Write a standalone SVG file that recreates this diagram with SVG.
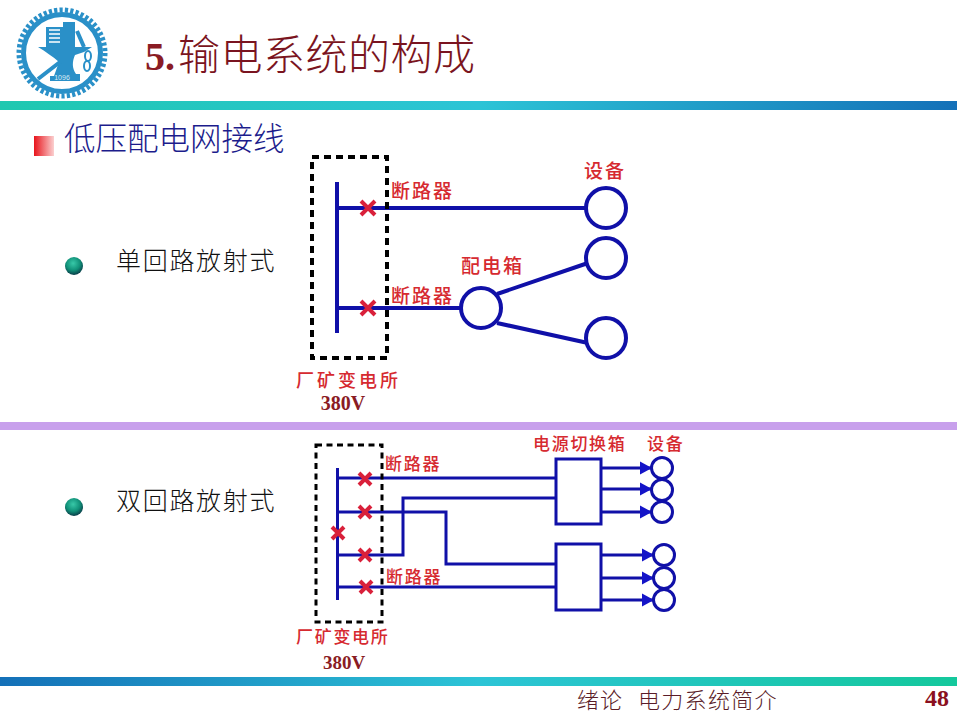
<svg xmlns="http://www.w3.org/2000/svg" width="957" height="716" viewBox="0 0 957 716">
<style>
.cjk{font-family:"Noto Sans CJK SC","Noto Sans",sans-serif}
.ser{font-family:"Liberation Serif",serif;font-weight:bold}
.red{fill:#d62a30;font-family:"Noto Sans CJK SC",sans-serif;font-weight:500;font-size:19px;letter-spacing:2px}
.red2{fill:#d62a30;font-family:"Noto Sans CJK SC",sans-serif;font-weight:500;font-size:17px;letter-spacing:1.700px}
.w{fill:none;stroke:#1010a8;stroke-width:4}
.w2{fill:none;stroke:#1010a8;stroke-width:3}
.c{fill:#fff;stroke:#1010a8;stroke-width:4}
.c2{fill:#fff;stroke:#1010a8;stroke-width:3}
.x{stroke:#d9203a;stroke-width:4;fill:none}
.d{fill:none;stroke:#000;stroke-width:4;stroke-dasharray:7 5}
.d2{fill:none;stroke:#000;stroke-width:3;stroke-dasharray:6 4.500}
</style>
<defs>
<linearGradient id="g1" x1="0" x2="1" y1="0" y2="0"><stop offset="0" stop-color="#1fc8b0"/><stop offset="0.5" stop-color="#2cc4d6"/><stop offset="1" stop-color="#1470b8"/></linearGradient>
<linearGradient id="g2" x1="0" x2="1" y1="0" y2="0"><stop offset="0" stop-color="#1470b8"/><stop offset="0.5" stop-color="#2cc4d6"/><stop offset="1" stop-color="#14c89c"/></linearGradient>
<linearGradient id="gs" x1="0" x2="1" y1="0" y2="0"><stop offset="0" stop-color="#e8141c"/><stop offset="1" stop-color="#fbd0d0"/></linearGradient>
<radialGradient id="gb" cx="0.45" cy="0.35" r="0.65"><stop offset="0" stop-color="#38c8a8"/><stop offset="0.6" stop-color="#109078"/><stop offset="1" stop-color="#0a3c48"/></radialGradient>
<marker id="a" markerUnits="userSpaceOnUse" markerWidth="13" markerHeight="14" refX="11" refY="7" orient="auto"><path d="M0 0.500L12 7L0 13.500Z" fill="#1414c8"/></marker>
</defs>
<rect width="957" height="716" fill="#fff"/>

<g id="logo">
<circle cx="62" cy="53" r="43" fill="none" stroke="#2a90c8" stroke-width="5" stroke-dasharray="3.200 2.200"/>
<circle cx="62" cy="53" r="38.500" fill="none" stroke="#2a90c8" stroke-width="5"/>
<path d="M46 27H63V22H75V47H92L84 52L75 55C72 62 72 68 76 74H80V81H50V76L54 76L59 62C52 56 46 52 38 47H46Z" fill="#2a90c8"/>
<path d="M49 30H60M49 34H60M49 38H60M49 42H60" stroke="#fff" stroke-width="1.500"/>
<path d="M77 31L84 47M60 62L38 79" stroke="#2a90c8" stroke-width="4"/>
<ellipse cx="88" cy="56" rx="3" ry="5" fill="none" stroke="#2a90c8" stroke-width="2"/>
<ellipse cx="87" cy="66" rx="3" ry="5" fill="none" stroke="#2a90c8" stroke-width="2"/>
<text x="62" y="80" font-family="Liberation Sans,sans-serif" font-size="7" fill="#d8eaf5" text-anchor="middle">1096</text>
</g>

<g id="title">
<text x="145" y="70" class="ser" font-size="40" fill="#8a1c24">5.</text>
<text x="178" y="70" class="cjk" font-size="42" font-weight="300" fill="#7a1420" letter-spacing="0.500">输电系统的构成</text>
</g>
<rect id="top-bar" x="0" y="101" width="957" height="9" fill="url(#g1)"/>
<rect id="mid-bar" x="0" y="422" width="957" height="8" fill="#c8a0ec"/>
<rect id="bottom-bar" x="0" y="677" width="957" height="9" fill="url(#g2)"/>

<g id="heading">
<rect x="34" y="136" width="20" height="20" fill="url(#gs)"/>
<text x="64" y="150" class="cjk" font-size="31.500" font-weight="300" fill="#1c1c8c">低压配电网接线</text>
</g>

<g id="item1">
<circle cx="74" cy="266" r="9" fill="url(#gb)"/>
<text x="116" y="270" class="cjk" font-size="25" font-weight="300" letter-spacing="1.700" fill="#111">单回路放射式</text>
</g>
<g id="item2">
<circle cx="74" cy="507" r="9" fill="url(#gb)"/>
<text x="116" y="510" class="cjk" font-size="25" font-weight="300" letter-spacing="1.700" fill="#111">双回路放射式</text>
</g>

<g id="connectors">
<path class="w" d="M337 182V333M337 208H588M337 308H463M497 294L588 263M497 323L588 343"/>
<path class="w2" d="M337.500 468V600M338 478H556M338 512H446V564H556M338 555H403V498H556M338 587H556"/>
<path class="w2" marker-end="url(#a)" d="M601 468H651"/>
<path class="w2" marker-end="url(#a)" d="M601 489H651"/>
<path class="w2" marker-end="url(#a)" d="M601 512H651"/>
<path class="w2" marker-end="url(#a)" d="M601 555H653"/>
<path class="w2" marker-end="url(#a)" d="M601 578H653"/>
<path class="w2" marker-end="url(#a)" d="M601 600H653"/>
</g>

<g id="substation-1"><rect class="d" x="312" y="157" width="75" height="201"/></g>
<g id="substation-2"><rect class="d2" x="316" y="445" width="66" height="177"/></g>

<g id="breakers-1">
<path class="x" d="M361 201L375 215M375 201L361 215M361 301L375 315M375 301L361 315"/>
</g>
<g id="breakers-2">
<path class="x" d="M359 473L371 485M371 473L359 485M359 506L371 518M371 506L359 518M332 527L344 539M344 527L332 539M359 549L371 561M371 549L359 561M360 581L372 593M372 581L360 593"/>
</g>

<g id="device-1"><circle class="c" cx="606" cy="208" r="20"/></g>
<g id="device-2"><circle class="c" cx="606" cy="258" r="20"/></g>
<g id="device-3"><circle class="c" cx="606" cy="338" r="20"/></g>
<g id="distribution-box"><circle class="c" cx="481" cy="308" r="20"/></g>

<g id="switch-box-1"><rect class="c2" x="556" y="459" width="45" height="65"/></g>
<g id="switch-box-2"><rect class="c2" x="556" y="544" width="45" height="66"/></g>
<g id="devices-upper">
<circle class="c2" cx="662" cy="468" r="10.500"/><circle class="c2" cx="662" cy="490" r="10.500"/><circle class="c2" cx="662" cy="512" r="10.500"/>
</g>
<g id="devices-lower">
<circle class="c2" cx="664" cy="555" r="10.500"/><circle class="c2" cx="664" cy="578" r="10.500"/><circle class="c2" cx="664" cy="600" r="10.500"/>
</g>

<g id="labels-1">
<text class="red" x="391" y="198">断路器</text>
<text class="red" x="391" y="303">断路器</text>
<text class="red" x="584" y="178">设备</text>
<text class="red" x="461" y="273">配电箱</text>
<text class="red" x="296" y="387" style="font-size:18px;letter-spacing:3px">厂矿变电所</text>
<text x="343" y="410" class="ser" font-size="20" fill="#8a1c24" text-anchor="middle">380V</text>
</g>
<g id="labels-2">
<text class="red2" x="385" y="470">断路器</text>
<text class="red2" x="386" y="583">断路器</text>
<text class="red2" x="533" y="450">电源切换箱</text>
<text class="red2" x="647" y="450">设备</text>
<text class="red2" x="296" y="643">厂矿变电所</text>
<text x="344" y="669" class="ser" font-size="19" fill="#8a1c24" text-anchor="middle">380V</text>
</g>

<g id="footer">
<text x="577" y="708" class="cjk" font-size="22" font-weight="300" letter-spacing="1" fill="#5a1c28">绪论</text>
<text x="638" y="708" class="cjk" font-size="22" font-weight="300" fill="#5a1c28" letter-spacing="1.300">电力系统简介</text>
<text x="949" y="706" class="ser" font-size="24" fill="#8a1020" text-anchor="end">48</text>
</g>
</svg>
